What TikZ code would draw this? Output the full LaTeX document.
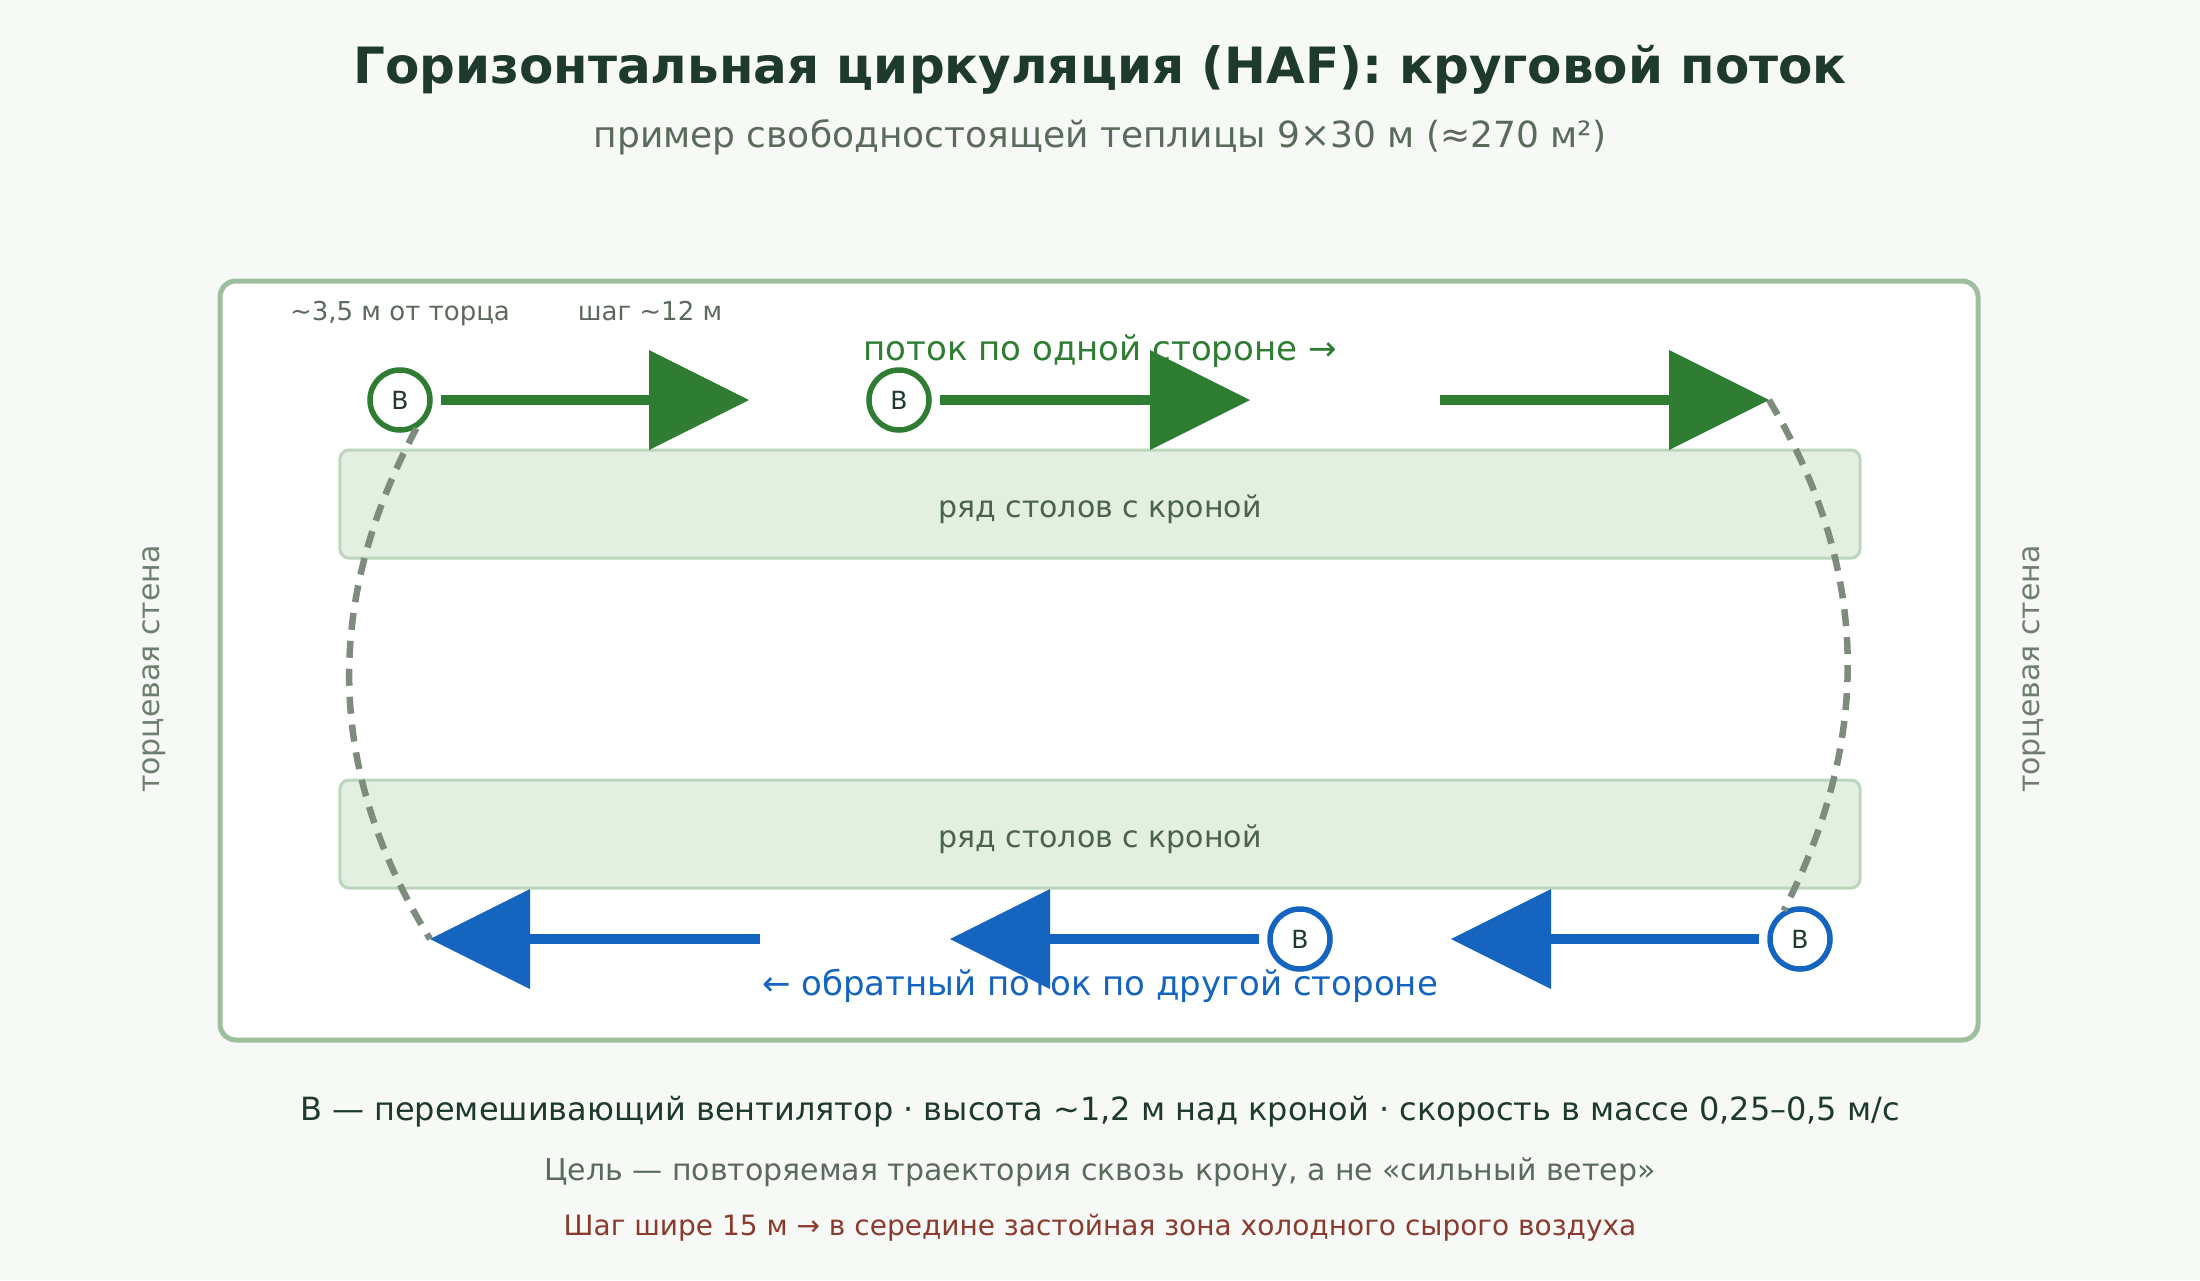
\documentclass[tikz,border=0pt]{standalone}
\usepackage{fontspec}
\setmainfont{DejaVu Sans}
\usepackage{tikz}
\definecolor{paper}{HTML}{F6F9F6}
\definecolor{darkgreen}{HTML}{1E3A2A}
\definecolor{greygreen}{HTML}{5B6B5B}
\definecolor{framegreen}{HTML}{9DBF9D}
\definecolor{rowfill}{HTML}{E3EFE0}
\definecolor{rowline}{HTML}{BCD6BC}
\definecolor{rowtext}{HTML}{4A634A}
\definecolor{flowgreen}{HTML}{2E7D32}
\definecolor{flowblue}{HTML}{1565C0}
\definecolor{loopgrey}{HTML}{7D8C7D}
\definecolor{warnred}{HTML}{8B3A2E}
\definecolor{sidegrey}{HTML}{6F7F6F}
\usetikzlibrary{arrows.meta}

\begin{document}
\begin{tikzpicture}[x=1bp, y=-1bp,
    rowbox/.style={draw=rowline, line width=3bp, rounded corners=9bp, fill=rowfill,
                minimum width=1520bp, minimum height=108bp, text=rowtext,
                text height=26bp, text depth=0bp, font=\fontsize{30bp}{36bp}\selectfont},
    fangreen/.style={circle, draw=flowgreen, line width=5.5bp, fill=white, minimum size=60bp,
                inner sep=0pt, text=darkgreen, font=\fontsize{25bp}{30bp}\selectfont},
    fanblue/.style={fangreen, draw=flowblue},
    flowright/.style={draw=flowgreen, line width=10bp, shorten <=8bp,
                -{Triangle[length=100bp, width=100bp, line width=0pt]}},
    flowleft/.style={flowright, draw=flowblue},
    loopline/.style={draw=loopgrey, line width=6.5bp, dash pattern=on 17bp off 11bp},
    smallnote/.style={anchor=base, text=greygreen, font=\fontsize{26bp}{30bp}\selectfont},
    sidenote/.style={text=sidegrey, rotate=90, font=\fontsize{30bp}{36bp}\selectfont}
]
    \useasboundingbox[fill=paper] (0,0) rectangle (2200,1280);

    % heading
    \node[anchor=base, text=darkgreen, font=\bfseries\fontsize{50bp}{58bp}\selectfont] (title)
        at (1100,83) {Горизонтальная циркуляция (HAF): круговой поток};
    \node[anchor=base, text=greygreen, font=\fontsize{36bp}{42bp}\selectfont] (subtitle)
        at (1100,147) {пример свободностоящей теплицы 9×30 м (≈270 м²)};

    % greenhouse and bench rows
    \draw[draw=framegreen, line width=5bp, fill=white, rounded corners=16bp] (220,281) rectangle (1978,1040);
    \node[rowbox] (row1) at (1100,504) {ряд столов с кроной};
    \node[rowbox] (row2) at (1100,834) {ряд столов с кроной};

    % labels
    \node[smallnote] (offset) at (400,320) {\textasciitilde3,5 м от торца};
    \node[smallnote] (pitch) at (650,320) {шаг \textasciitilde12 м};
    \node[anchor=base, text=flowgreen, font=\fontsize{34bp}{40bp}\selectfont] (uplabel)
        at (1100,360) {поток по одной стороне →};
    \node[anchor=base, text=flowblue, font=\fontsize{34bp}{40bp}\selectfont] (downlabel)
        at (1100,995) {← обратный поток по другой стороне};
    \node[sidenote] (wallL) at (154,669) {торцевая стена};
    \node[sidenote] (wallR) at (2034,669) {торцевая стена};

    % fans
    \node[fangreen] (f1) at (400,400) {В};
    \node[fangreen] (f2) at (899,400) {В};
    \node[fanblue] (f3) at (1300,939) {В};
    \node[fanblue] (f4) at (1800,939) {В};

    \coordinate (t1) at (749,400);
    \coordinate (t2) at (1250,400);
    \coordinate (s3) at (1432,400);
    \coordinate (t3) at (1769,400);
    \coordinate (t4) at (1451,939);
    \coordinate (t5) at (950,939);
    \coordinate (s6) at (768,939);
    \coordinate (t6) at (430,939);

    % turning at the end walls
    \draw[loopline] (f1.-60) .. controls (330,590) and (319,759) .. (t6);
    \draw[loopline] (t3) .. controls (1877,580) and (1866,750) .. (f4.120);

    % flow along both sides
    \draw[flowright] (f1) -- (t1);
    \draw[flowright] (f2) -- (t2);
    \draw[flowright] (s3) -- (t3);
    \draw[flowleft] (f4) -- (t4);
    \draw[flowleft] (f3) -- (t5);
    \draw[flowleft] (s6) -- (t6);

    % legend
    \node[anchor=base, text=darkgreen, font=\fontsize{32bp}{38bp}\selectfont] (legend)
        at (1100,1120) {В — перемешивающий вентилятор · высота \textasciitilde1,2 м над кроной · скорость в массе 0,25–0,5 м/с};
    \node[anchor=base, text=greygreen, font=\fontsize{30bp}{36bp}\selectfont] (goal)
        at (1100,1180) {Цель — повторяемая траектория сквозь крону, а не «сильный ветер»};
    \node[anchor=base, text=warnred, font=\fontsize{28bp}{34bp}\selectfont] (warning)
        at (1100,1235) {Шаг шире 15 м → в середине застойная зона холодного сырого воздуха};
\end{tikzpicture}
\end{document}
